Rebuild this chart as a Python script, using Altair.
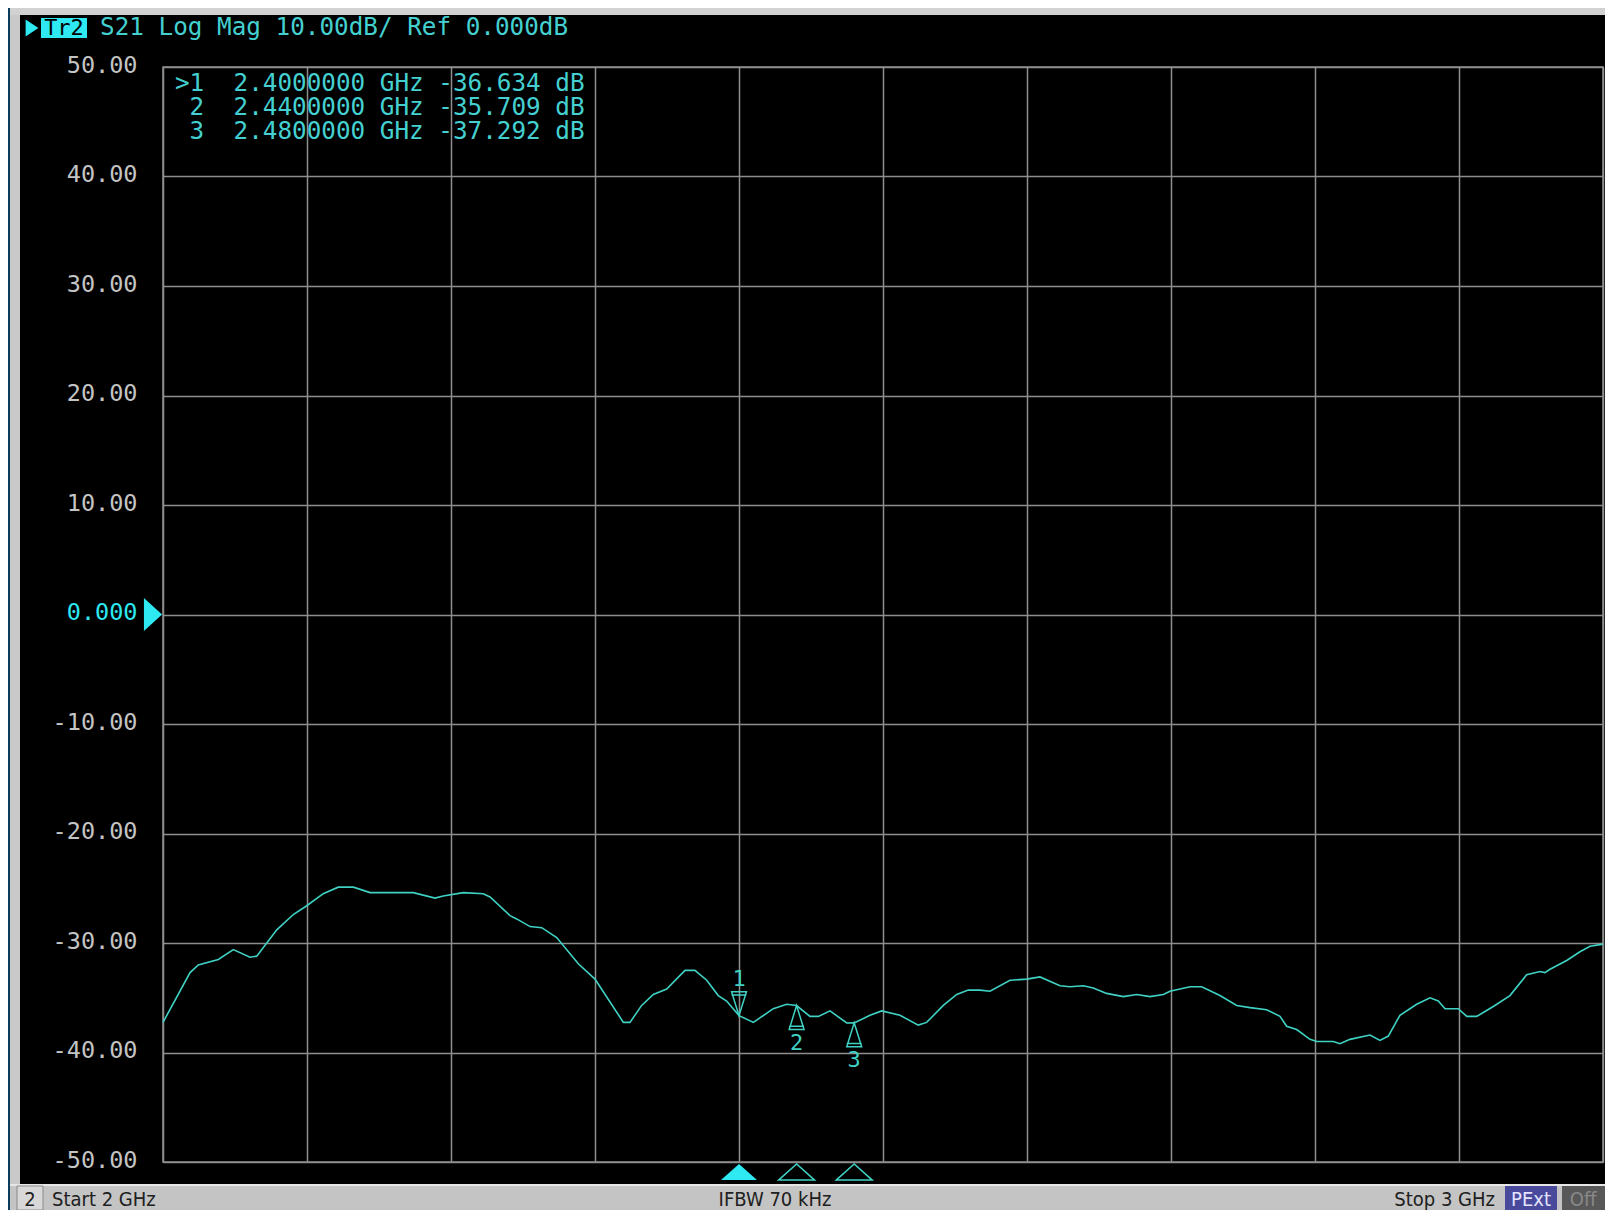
import altair as alt
import pandas as pd

freq_ghz = [2.0000, 2.0188, 2.0245, 2.0384, 2.0488, 2.0604, 2.0651, 2.0790, 2.0905, 2.0998,
            2.1113, 2.1217, 2.1322, 2.1438, 2.1576, 2.1738, 2.1889, 2.1946, 2.2085, 2.2224,
            2.2271, 2.2410, 2.2456, 2.2549, 2.2630, 2.2734, 2.2884, 2.3000, 2.3197, 2.3243,
            2.3324, 2.3405, 2.3498, 2.3625, 2.3694, 2.3776, 2.3856, 2.3914, 2.4000, 2.4100,
            2.4238, 2.4331, 2.4400, 2.4493, 2.4551, 2.4632, 2.4748, 2.4800, 2.4910, 2.4991,
            2.5118, 2.5245, 2.5303, 2.5419, 2.5512, 2.5592, 2.5674, 2.5743, 2.5882, 2.5998,
            2.6090, 2.6229, 2.6299, 2.6391, 2.6460, 2.6553, 2.6669, 2.6762, 2.6854, 2.6947,
            2.6993, 2.7132, 2.7213, 2.7340, 2.7456, 2.7549, 2.7664, 2.7757, 2.7803, 2.7873,
            2.7965, 2.8012, 2.8127, 2.8174, 2.8243, 2.8382, 2.8451, 2.8509, 2.8590, 2.8706,
            2.8799, 2.8856, 2.8903, 2.8995, 2.9054, 2.9123, 2.9238, 2.9354, 2.9470, 2.9563,
            2.9597, 2.9632, 2.9748, 2.9840, 2.9910, 3.0000]
s21_db = [-37.25, -32.7, -32.0, -31.5, -30.6, -31.3, -31.2, -28.8, -27.4, -26.6,
          -25.5, -24.9, -24.9, -25.4, -25.4, -25.4, -25.9, -25.7, -25.4, -25.5,
          -25.8, -27.5, -27.8, -28.5, -28.6, -29.5, -31.9, -33.3, -37.25, -37.25,
          -35.7, -34.7, -34.2, -32.5, -32.5, -33.4, -34.8, -35.3, -36.634, -37.25,
          -36.0, -35.6, -35.709, -36.7, -36.7, -36.2, -37.3, -37.292, -36.6, -36.2,
          -36.6, -37.5, -37.25, -35.7, -34.7, -34.3, -34.3, -34.4, -33.4, -33.3,
          -33.1, -33.9, -34.0, -33.9, -34.1, -34.6, -34.9, -34.7, -34.9, -34.7,
          -34.4, -34.0, -34.0, -34.8, -35.7, -35.9, -36.1, -36.7, -37.6, -37.9,
          -38.8, -39.0, -39.0, -39.2, -38.8, -38.4, -38.9, -38.5, -36.6, -35.6,
          -35.0, -35.3, -36.0, -36.0, -36.7, -36.7, -35.8, -34.8, -32.9, -32.6,
          -32.7, -32.4, -31.6, -30.8, -30.3, -30.1]

marker_ids = ["1", "2", "3"]
marker_freq = [2.40, 2.44, 2.48]
marker_db = [-36.634, -35.709, -37.292]
marker_active = [True, False, False]

y_ticks = [-50, -40, -30, -20, -10, 0, 10, 20, 30, 40, 50]
x_ticks = [2.0, 2.1, 2.2, 2.3, 2.4, 2.5, 2.6, 2.7, 2.8, 2.9, 3.0]

trace_label = "Tr2"
header_text = "S21 Log Mag 10.00dB/ Ref 0.000dB"
channel_label = "2"
status_left = "Start 2 GHz"
status_mid = "IFBW 70 kHz"
status_right = "Stop 3 GHz"
status_pext = "PExt"
status_off = "Off"

# ---------------- styling ----------------
W, H = 1440, 1095
TRACE = "#3fd2c4"
TEXT = "#44d0d0"
CYAN = "#2ee8f2"
GRID = "#8e8e8e"
LABEL = "#c4c4c4"
MONO = "DejaVu Sans Mono"
SANS = "Liberation Sans Narrow, DejaVu Sans Condensed, Liberation Sans"
FS = 24.3
CW = FS * 0.602  # monospace advance

xs = alt.Scale(domain=[2, 3], nice=False, zero=False)
ys = alt.Scale(domain=[-50, 50], nice=False, zero=False)

y_label_expr = ("datum.value == 0 ? '0.000' : (datum.value < 0 ? '-' + format(-datum.value, '.2f') "
                ": format(datum.value, '.2f'))")

X_AX = alt.Axis(values=x_ticks, grid=True, gridColor=GRID, gridWidth=1.5, gridOpacity=1,
                labels=False, ticks=False, domain=False, title=None)
Y_AX = alt.Axis(values=y_ticks, grid=True, gridColor=GRID, gridWidth=1.5, gridOpacity=1,
                ticks=False, domain=False, title=None,
                labelExpr=y_label_expr, labelFont=MONO, labelFontSize=23.5,
                labelPadding=26, labelOffset=-2,
                labelColor={"condition": {"test": "datum.value == 0", "value": CYAN}, "value": LABEL})

trace_df = pd.DataFrame({"f": freq_ghz, "db": s21_db})
mk_df = pd.DataFrame({"f": marker_freq, "db": marker_db, "id": marker_ids, "active": marker_active})
one = pd.DataFrame({"k": [0]})

line = alt.Chart(trace_df).mark_line(color=TRACE, strokeWidth=1.6).encode(
    x=alt.X("f:Q", scale=xs, axis=X_AX),
    y=alt.Y("db:Q", scale=ys, axis=Y_AX),
)


def prect(x1, x2, y1, y2, color, stroke=None):
    kw = {"color": color}
    if stroke:
        kw.update(stroke=stroke, strokeWidth=1)
    return alt.Chart(one).mark_rect(**kw).encode(
        x=alt.value(x1), x2=alt.value(x2), y=alt.value(y1), y2=alt.value(y2))


def ptext(txt, x, y, size, color, font=MONO, align="left"):
    return alt.Chart(one).mark_text(text=txt, font=font, fontSize=size, color=color, align=align,
                                    baseline="middle").encode(x=alt.value(x), y=alt.value(y))


# frame decorations (screen bezel)
frame = [
    prect(-155, -153, -59, 1143, "#0c3c5c"),
    prect(-153, -143, -59, 1143, "#c9c9c9"),
    prect(-153, 1442, -59, -52, "#d2d2d2"),
    prect(-153, 1442, 1117, 1143, "#c4c4c4"),
    prect(-153, 1442, 1117, 1119, "#e6e6e6"),
    prect(-146, -120, 1119, 1143, "#d8d8d8", stroke="#8a8a8a"),
    prect(1342, 1394, 1119, 1143, "#4a4a9c"),
    prect(1399, 1442, 1119, 1143, "#585858"),
    prect(-122, -76, -49, -29, CYAN),
]

texts = [
    ptext(trace_label, -99, -39, 22, "#000000", align="center"),
    ptext(header_text, -63, -39, FS, TEXT),
    ptext(channel_label, -133, 1133, 20, "#202020", font=SANS, align="center"),
    ptext(status_left, -111, 1133, 20, "#202020", font=SANS),
    ptext(status_mid, 612, 1133, 20, "#202020", font=SANS, align="center"),
    ptext(status_right, 1332, 1133, 20, "#202020", font=SANS, align="right"),
    ptext(status_pext, 1368, 1133, 20, "#e4e4ff", font=SANS, align="center"),
    ptext(status_off, 1420, 1133, 20, "#8a8a8a", font=SANS, align="center"),
]

# marker readout table (one layer per row, columns aligned like a fixed-width display)
table = []
for i, (mid, f, v) in enumerate(zip(marker_ids, marker_freq, marker_db)):
    row_y = 17 + 24 * i
    id_txt = (">" if marker_active[i] else "") + mid
    table.append(ptext(id_txt, 12 + 2 * CW, row_y, FS, TEXT, align="right"))
    table.append(ptext(f"{f:.7f} GHz {v:.3f} dB", 12 + 4 * CW, row_y, FS, TEXT))

# header triangle and reference-level triangle
hdr_tri = alt.Chart(one).mark_point(shape="M -0.75 -1 L 0.75 0 L -0.75 1 Z", size=289, filled=True,
                                    color=CYAN, opacity=1).encode(x=alt.value(-131), y=alt.value(-39))
ref_tri = alt.Chart(one).mark_point(shape="M -0.55 -1 L 0.55 0 L -0.55 1 Z", size=1089, filled=True,
                                    color=CYAN, opacity=1).encode(
    x=alt.value(-10), y=alt.Y(datum=0, scale=ys, axis=Y_AX))

# markers on the trace
mk_base = alt.Chart(mk_df)
down_shape = "M -0.62 -1 L 0.62 -1 L 0 1 Z M -0.62 -0.72 L 0.62 -0.72"
up_shape = "M -0.62 1 L 0.62 1 L 0 -1 Z M -0.62 0.72 L 0.62 0.72"
mk_enc = dict(x=alt.X("f:Q", scale=xs, axis=X_AX), y=alt.Y("db:Q", scale=ys, axis=Y_AX))
mk_down = mk_base.transform_filter("datum.active").mark_point(
    shape=down_shape, size=576, filled=False, color=TRACE, strokeWidth=1.5, opacity=1, yOffset=-12).encode(**mk_enc)
mk_up = mk_base.transform_filter("!datum.active").mark_point(
    shape=up_shape, size=576, filled=False, color=TRACE, strokeWidth=1.5, opacity=1, yOffset=12).encode(**mk_enc)
mk_lbl_up = mk_base.transform_filter("datum.active").mark_text(
    font=MONO, fontSize=22, color=TRACE, dy=-37).encode(text="id:N", **mk_enc)
mk_lbl_dn = mk_base.transform_filter("!datum.active").mark_text(
    font=MONO, fontSize=22, color=TRACE, dy=37).encode(text="id:N", **mk_enc)

# marker indicators below the grid
tri_shape = "M -1 0.45 L 1 0.45 L 0 -0.45 Z"
bot_active = mk_base.transform_filter("datum.active").mark_point(
    shape=tri_shape, size=1296, filled=True, color=CYAN, opacity=1).encode(
    x=alt.X("f:Q", scale=xs, axis=X_AX), y=alt.value(1105))
bot_other = mk_base.transform_filter("!datum.active").mark_point(
    shape=tri_shape, size=1296, filled=False, color=TRACE, strokeWidth=1.5, opacity=1).encode(
    x=alt.X("f:Q", scale=xs, axis=X_AX), y=alt.value(1105))

chart = alt.layer(
    line, *frame, *texts, *table, hdr_tri, ref_tri, mk_down, mk_up, mk_lbl_up, mk_lbl_dn, bot_active, bot_other
).properties(
    width=W, height=H, background="#000000",
    padding={"left": 155, "top": 59, "right": 2, "bottom": 48},
    autosize=alt.AutoSizeParams(type="none"),
).configure_view(stroke=GRID, strokeWidth=1.5, fill="#000000")

chart.save("out.html", embed_options={"renderer": "svg", "actions": False})
